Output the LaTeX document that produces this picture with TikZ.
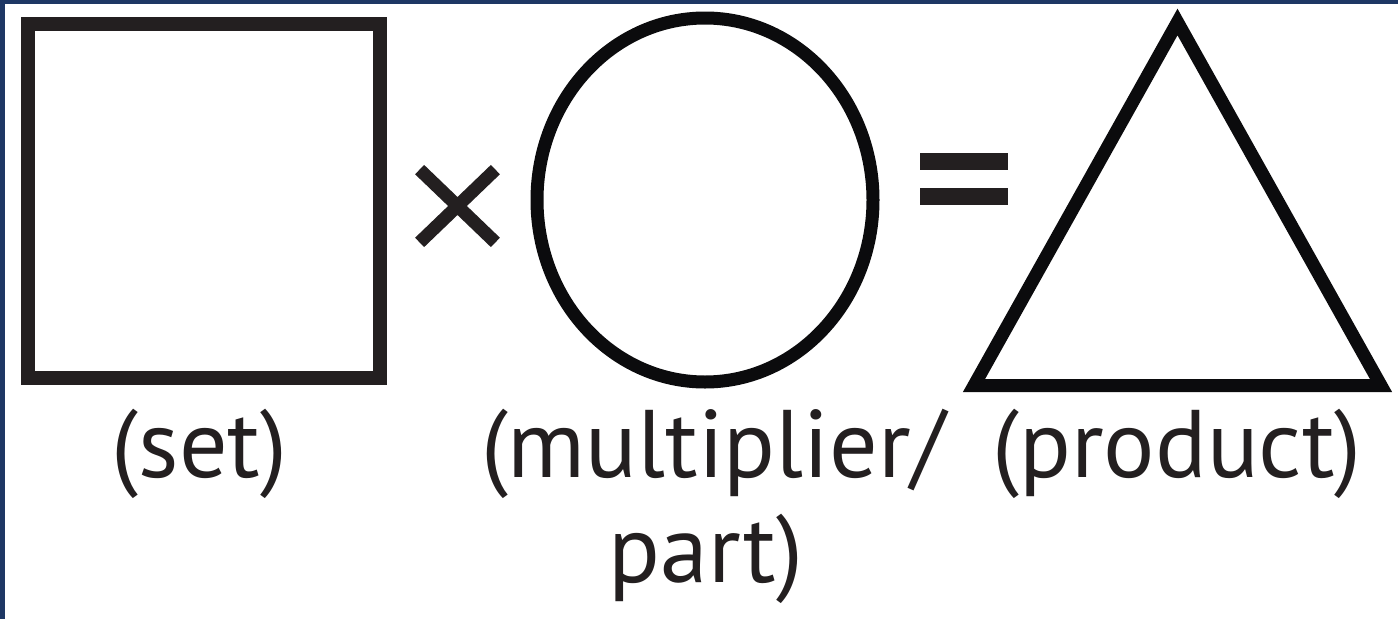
\documentclass[tikz,border=0pt]{standalone}
\usepackage{fontspec}
\setmainfont{PT Sans}
\definecolor{ink}{HTML}{231F20}
\definecolor{deep}{HTML}{0B0B0D}
\definecolor{frame}{HTML}{1E3764}
\begin{document}
\begin{tikzpicture}[x=1pt,y=-1pt,
  figure/.style={draw=deep,line width=13pt,line join=miter,miter limit=10},
  lbl/.style={font=\fontsize{96}{96}\selectfont,text=ink,inner sep=0pt,anchor=base}]
\useasboundingbox (0,0) rectangle (1398,619);
\fill[white] (0,0) rectangle (1398,619);
\fill[frame] (0,0) rectangle (5,619);
\fill[frame] (0,0) rectangle (1398,4);
% square
\draw[figure,draw=ink,line width=14pt] (27.5,24) rectangle (379.5,378);
% times sign
\draw[ink,line width=13pt] (419.6,169.6) -- (495.4,242.4);
\draw[ink,line width=13pt] (419.6,242.4) -- (495.4,169.6);
% circle
\draw[figure] (705,200) ellipse [x radius=168, y radius=182];
% equals
\fill[ink] (920,153) rectangle (1008,170);
\fill[ink] (920,188) rectangle (1008,205);
% triangle
\draw[figure] (974,385.5) -- (1177.5,22) -- (1381,385.5) -- cycle;
% labels
\node[lbl] (set) at (199.5,477) {(set)};
\node[lbl] (mult) at (713,477) {(multiplier/};
\node[lbl] (part) at (706,582) {part)};
\node[lbl] (prod) at (1177,477) {(product)};
\end{tikzpicture}
\end{document}
